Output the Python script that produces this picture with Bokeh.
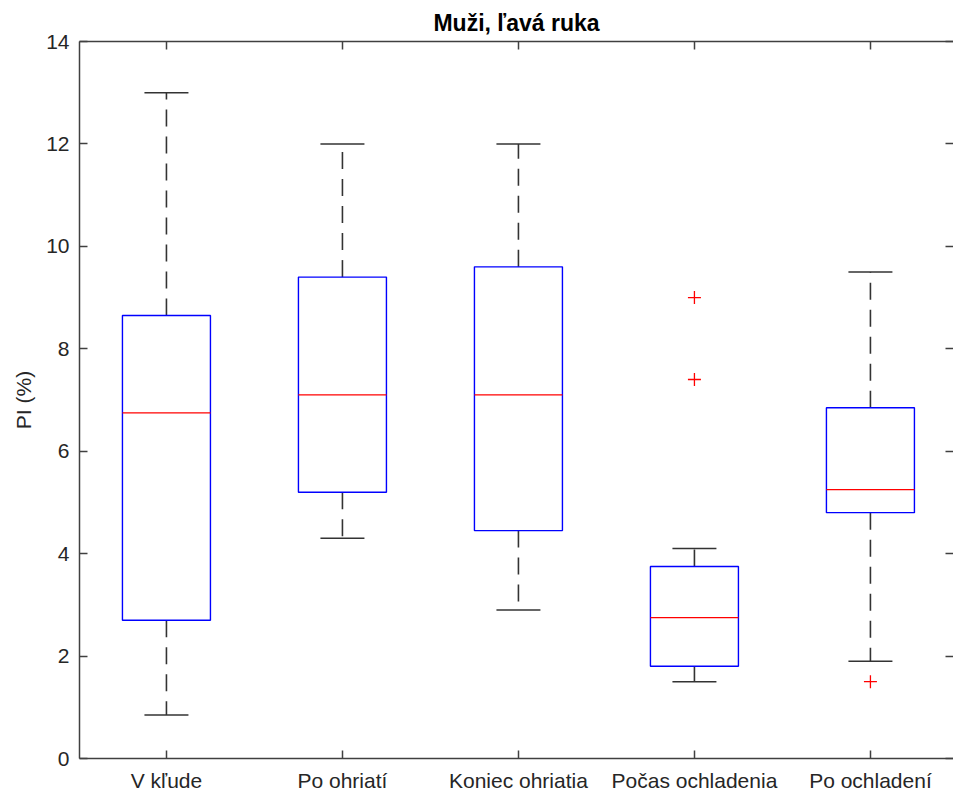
from bokeh.plotting import figure
from bokeh.models import LinearAxis, FixedTicker, Range1d, ColumnDataSource
from bokeh.embed import file_html
from bokeh.resources import INLINE

# ---- data ----
categories = ["V kľude", "Po ohriatí", "Koniec ohriatia", "Počas ochladenia", "Po ochladení"]
lower_whisker = [0.85, 4.3, 2.9, 1.5, 1.9]
q1 = [2.7, 5.2, 4.45, 1.8, 4.8]
median = [6.75, 7.1, 7.1, 2.75, 5.25]
q3 = [8.65, 9.4, 9.6, 3.75, 6.85]
upper_whisker = [13.0, 12.0, 12.0, 4.1, 9.5]
outlier_group = [4, 4, 5]
outlier_value = [9.0, 7.4, 1.5]
y_ticks = [0, 2, 4, 6, 8, 10, 12, 14]

BOX_W = 0.5
CAP_W = 0.25
FONT = "Liberation Sans"
AX_COL = "#404040"

xs = list(range(1, len(categories) + 1))
src = ColumnDataSource(dict(
    x=xs,
    left=[x - BOX_W / 2 for x in xs],
    right=[x + BOX_W / 2 for x in xs],
    cl=[x - CAP_W / 2 for x in xs],
    cr=[x + CAP_W / 2 for x in xs],
    lw=lower_whisker, q1=q1, med=median, q3=q3, uw=upper_whisker,
))
osrc = ColumnDataSource(dict(x=outlier_group, y=outlier_value))

p = figure(width=953, height=798, output_backend="svg", toolbar_location=None,
           x_range=Range1d(0.506, 5.472), y_range=Range1d(0, 14),
           min_border_left=79, min_border_top=41, min_border_bottom=40, min_border_right=0,
           title="Muži, ľavá ruka")
p.outline_line_color = None
p.grid.visible = False
p.background_fill_color = "white"
p.border_fill_color = "white"

p.title.align = "center"
p.title.text_font = FONT
p.title.text_font_size = "23px"
p.title.text_font_style = "bold"
p.title.text_color = "#000000"
p.title.standoff = 11

# whiskers (dashed)
p.segment(x0="x", y0="q3", x1="x", y1="uw", source=src, line_color="#333333",
          line_width=1.6, line_dash="17 10")
p.segment(x0="x", y0="q1", x1="x", y1="lw", source=src, line_color="#333333",
          line_width=1.6, line_dash="17 10")
# caps
p.segment(x0="cl", y0="uw", x1="cr", y1="uw", source=src, line_color="#333333", line_width=1.6)
p.segment(x0="cl", y0="lw", x1="cr", y1="lw", source=src, line_color="#333333", line_width=1.6)
# boxes
p.quad(left="left", right="right", bottom="q1", top="q3", source=src,
       fill_color=None, line_color="#0000ff", line_width=1.4)
# medians
p.segment(x0="left", y0="med", x1="right", y1="med", source=src, line_color="#ff0000", line_width=1.3)
# outliers
p.scatter(x="x", y="y", source=osrc, marker="cross", size=13, line_color="#ff0000", line_width=1.3)

def style(ax, labels=True):
    ax.axis_line_color = AX_COL
    ax.axis_line_width = 1.5
    ax.major_tick_line_color = AX_COL
    ax.major_tick_line_width = 1.5
    ax.major_tick_in = 8
    ax.major_tick_out = 0
    ax.minor_tick_line_color = None
    ax.major_label_text_font = FONT
    ax.major_label_text_font_size = "21px"
    ax.major_label_text_color = "#262626"
    if not labels:
        ax.major_label_text_font_size = "0px"
        ax.major_label_standoff = 0

# bottom axis
xa = p.xaxis[0]
xa.ticker = FixedTicker(ticks=xs)
xa.major_label_overrides = {i + 1: c for i, c in enumerate(categories)}
style(xa)
xa.major_label_standoff = 10

# left axis
ya = p.yaxis[0]
ya.ticker = FixedTicker(ticks=y_ticks)
style(ya)
ya.major_label_standoff = 10
ya.axis_label = "PI (%)"
ya.axis_label_text_font = FONT
ya.axis_label_text_font_size = "21px"
ya.axis_label_text_font_style = "normal"
ya.axis_label_text_color = "#262626"
ya.axis_label_standoff = 8

# top axis
ta = LinearAxis(ticker=FixedTicker(ticks=xs), major_label_overrides={i + 1: "" for i in range(len(xs))})
style(ta, labels=False)
p.add_layout(ta, "above")

# right axis
ra = LinearAxis(ticker=FixedTicker(ticks=y_ticks), major_label_overrides={t: "" for t in y_ticks})
style(ra, labels=False)
ra.axis_line_color = None
p.add_layout(ra, "right")

open("out.html", "w").write(file_html(p, INLINE))
